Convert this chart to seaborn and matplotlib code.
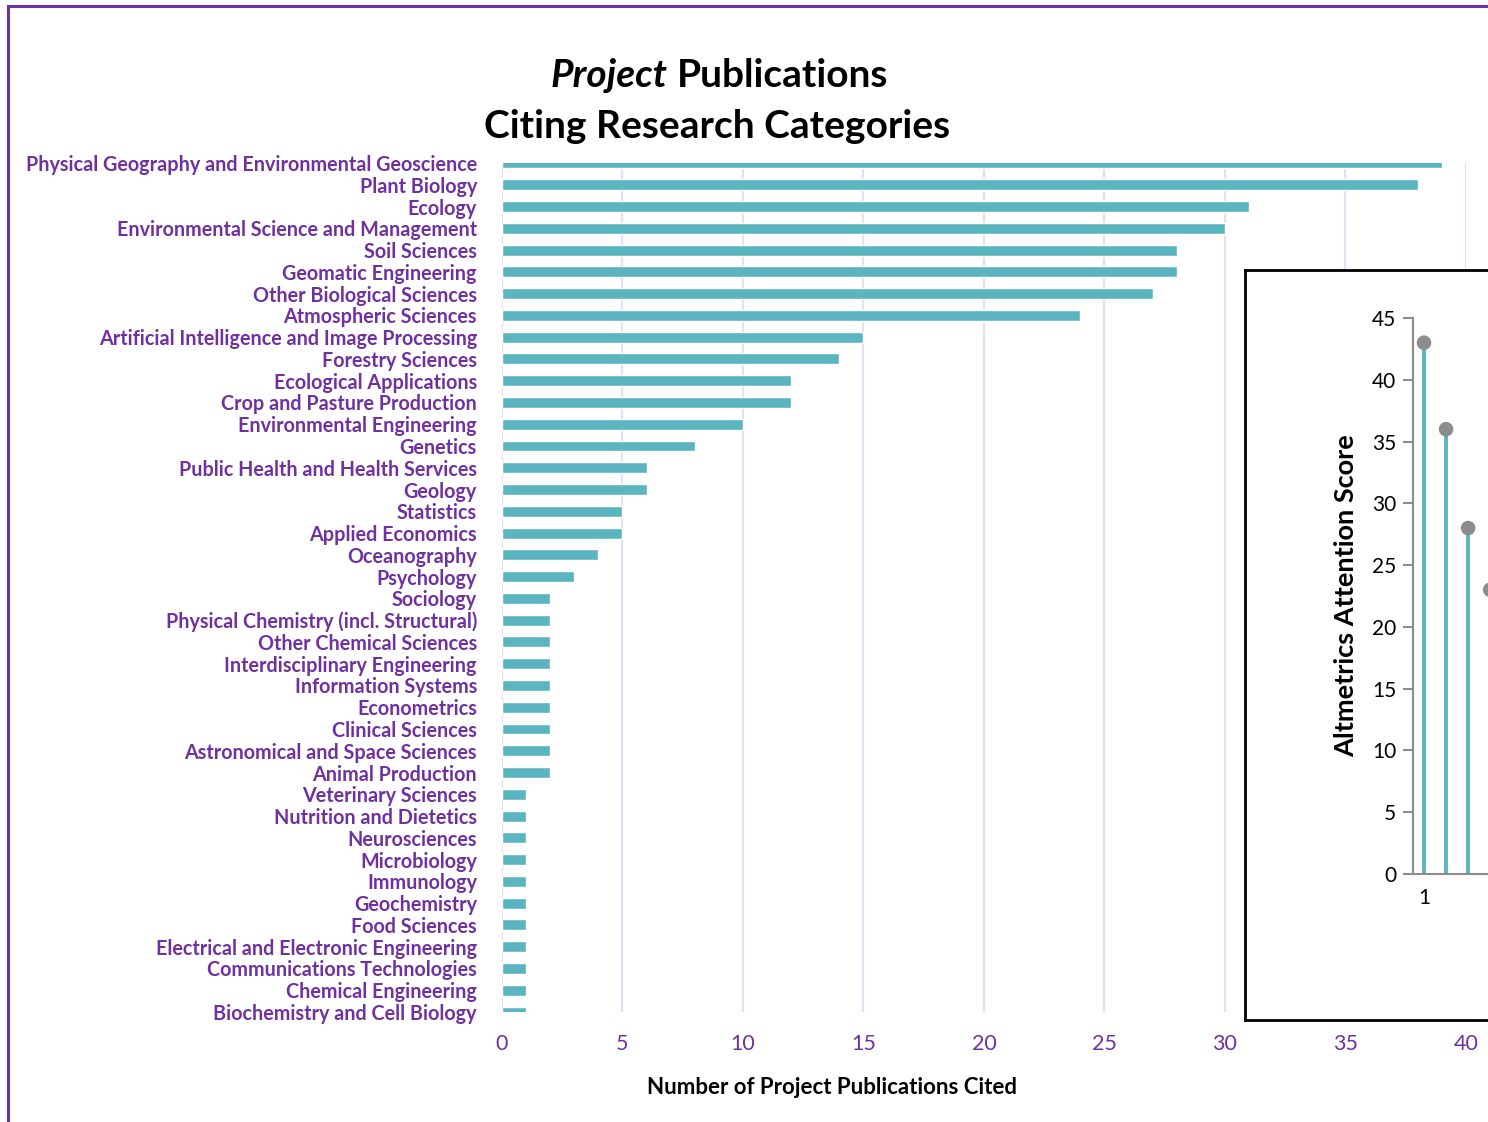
import numpy as np
import pandas as pd
import matplotlib
matplotlib.use("Agg")
import matplotlib.pyplot as plt
import seaborn as sns
from matplotlib.patches import Rectangle

# %% data
categories = [
    "Physical Geography and Environmental Geoscience", "Plant Biology", "Ecology",
    "Environmental Science and Management", "Soil Sciences", "Geomatic Engineering",
    "Other Biological Sciences", "Atmospheric Sciences",
    "Artificial Intelligence and Image Processing", "Forestry Sciences",
    "Ecological Applications", "Crop and Pasture Production",
    "Environmental Engineering", "Genetics", "Public Health and Health Services",
    "Geology", "Statistics", "Applied Economics", "Oceanography", "Psychology",
    "Sociology", "Physical Chemistry (incl. Structural)", "Other Chemical Sciences",
    "Interdisciplinary Engineering", "Information Systems", "Econometrics",
    "Clinical Sciences", "Astronomical and Space Sciences", "Animal Production",
    "Veterinary Sciences", "Nutrition and Dietetics", "Neurosciences",
    "Microbiology", "Immunology", "Geochemistry", "Food Sciences",
    "Electrical and Electronic Engineering", "Communications Technologies",
    "Chemical Engineering", "Biochemistry and Cell Biology",
]
pubs_cited = [39, 38, 31, 30, 28, 28, 27, 24, 15, 14, 12, 12, 10, 8, 6, 6, 5, 5, 4, 3,
              2, 2, 2, 2, 2, 2, 2, 2, 2, 1, 1, 1, 1, 1, 1, 1, 1, 1, 1, 1]

# inset: altmetrics attention score (only the visible part)
alt_rank = [1, 2, 3, 4]
alt_score = [43, 36, 28, 23]

df = pd.DataFrame({"category": categories, "count": pubs_cited})

# %% styling
sns.set_theme(style="white")
plt.rcParams["font.family"] = ["Lato", "DejaVu Sans"]
plt.rcParams.update({"text.color": "black", "axes.labelcolor": "black",
                     "xtick.color": "black", "ytick.color": "black"})
purple = "#7030A0"
teal = "#5BB5C1"
grid_c = "#E9DDF4"

fig = plt.figure(figsize=(14.88, 11.22), dpi=100)

# purple outer frame
fig.patches.append(Rectangle((8 / 1488, -0.1), 1.2, 1.1 - 6 / 1122,
                             transform=fig.transFigure, fill=False,
                             edgecolor=purple, lw=2.2, zorder=0))

# %% main bar chart
ax = fig.add_axes([502 / 1488, 1 - 1012 / 1122, 964 / 1488, (1012 - 163) / 1122])
sns.barplot(data=df, x="count", y="category", color=teal, width=0.5,
            saturation=1, orient="h", ax=ax)
ax.set_xlim(0, 40)
ax.set_ylim(39, 0)
ax.set_xticks(np.arange(0, 41, 5))
ax.grid(axis="x", color=grid_c, lw=1.6)
ax.grid(axis="y", visible=False)
ax.set_axisbelow(True)
for s in ax.spines.values():
    s.set_visible(False)
ax.tick_params(axis="both", length=0)
ax.tick_params(axis="x", pad=16, labelsize=15.5, labelcolor=purple)
ax.tick_params(axis="y", pad=18, labelsize=14.2, labelcolor=purple)
for t in ax.get_yticklabels():
    t.set_fontweight("bold")
ax.set_ylabel("")
ax.set_xlabel("Number of Project Publications Cited", fontsize=16, fontweight="bold",
              color="black")
ax.xaxis.set_label_coords(0.342, -0.077)

# %% titles
fig.text(668 / 1488, 1 - 87 / 1122, "Project", ha="right", va="baseline",
         fontsize=28, fontweight="bold", style="italic")
fig.text(677 / 1488, 1 - 87 / 1122, "Publications", ha="left", va="baseline",
         fontsize=28, fontweight="bold")
fig.text(717 / 1488, 1 - 138 / 1122, "Citing Research Categories", ha="center",
         va="baseline", fontsize=28, fontweight="bold")

# %% inset frame
frame = fig.add_axes([1245 / 1488, 1 - 1020 / 1122, 0.3, (1020 - 270) / 1122])
frame.set_facecolor("white")
frame.set_xticks([])
frame.set_yticks([])
for s in frame.spines.values():
    s.set_edgecolor("black")
    s.set_linewidth(2)

# %% inset lollipop
ins = fig.add_axes([1413 / 1488, 1 - 874 / 1122, 0.2, (874 - 318) / 1122])
ins.set_facecolor("none")
ins.vlines(alt_rank, 0, alt_score, color=teal, lw=2.8, zorder=2)
sns.scatterplot(x=alt_rank, y=alt_score, color="#8C8C8C", s=110, edgecolor="none",
                zorder=3, ax=ins)
ins.set_xlim(0.5, 14)
ins.set_ylim(0, 45)
ins.set_yticks(np.arange(0, 46, 5))
ins.set_xticks([1])
for side in ["top", "right"]:
    ins.spines[side].set_visible(False)
for side in ["left", "bottom"]:
    ins.spines[side].set_color("#8C8C8C")
    ins.spines[side].set_linewidth(1.5)
ins.tick_params(axis="y", left=True, direction="out", length=7, width=1.5,
                color="#8C8C8C", labelcolor="black", labelsize=15, pad=5)
ins.tick_params(axis="x", length=0, labelcolor="black", labelsize=15, pad=10)
ins.set_ylabel("Altmetrics Attention Score", fontsize=19.5, fontweight="bold",
               labelpad=10)

fig.savefig("out.png", dpi=100)
